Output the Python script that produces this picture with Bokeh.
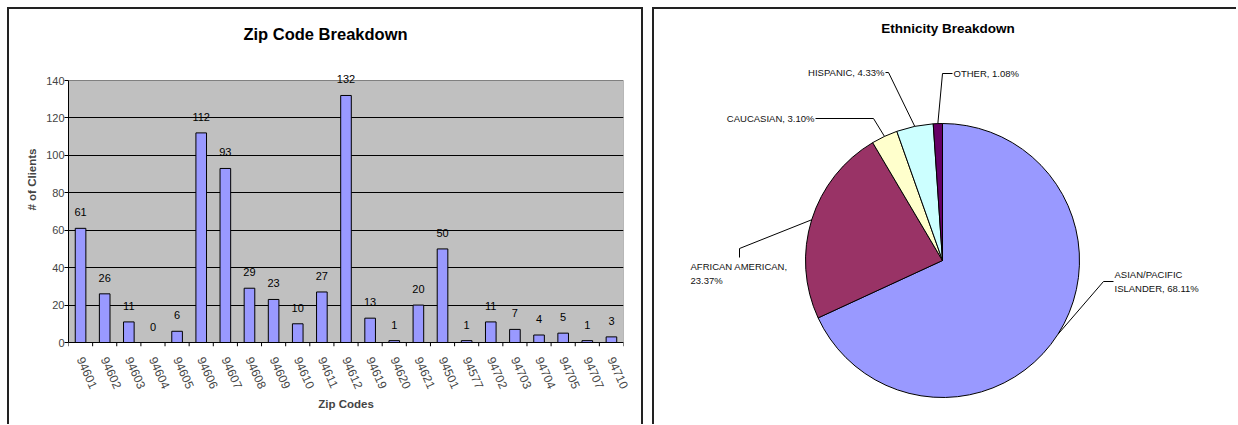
import math
from bokeh.plotting import figure
from bokeh.models import (ColumnDataSource, Range1d, LinearAxis, FixedTicker, LabelSet,
                          Label, Grid, BoxAnnotation, Span)
from bokeh.layouts import row
from bokeh.embed import file_html
from bokeh.resources import INLINE
from bokeh.core.properties import value

# ---------------- data ----------------
zip_codes = ["94601", "94602", "94603", "94604", "94605", "94606", "94607", "94608",
             "94609", "94610", "94611", "94612", "94619", "94620", "94621", "94501",
             "94577", "94702", "94703", "94704", "94705", "94707", "94710"]
clients = [61, 26, 11, 0, 6, 112, 93, 29, 23, 10, 27, 132, 13, 1, 20, 50, 1, 11, 7, 4, 5, 1, 3]
y_ticks = [0, 20, 40, 60, 80, 100, 120, 140]

eth_names = ["ASIAN/PACIFIC\nISLANDER", "AFRICAN AMERICAN,\n", "CAUCASIAN", "HISPANIC", "OTHER"]
eth_pct = [68.11, 23.37, 3.10, 4.33, 1.08]
eth_colors = ["#9999FF", "#993366", "#FFFFCC", "#CCFFFF", "#660066"]

FONT = "Liberation Sans"
EDGE = "#222222"

# ---------------- bar chart (pixel layout) ----------------
W1, H = 643, 424
F_LEFT, F_RIGHT, F_TOP140, F_ZERO = 68, 623, 80, 342   # plot area in px
FRAME_TOP, TICK = 12, 4
N = len(zip_codes)
PXY = (F_ZERO - F_TOP140) / y_ticks[-1]
PXX = (F_RIGHT - F_LEFT) / N

idx = list(range(N))
src = ColumnDataSource(dict(i=idx, n=clients, lbl=[str(v) for v in clients]))

p = figure(x_range=Range1d(-0.5, N - 0.5),
           y_range=Range1d(-TICK / PXY, y_ticks[-1] + (F_TOP140 - FRAME_TOP) / PXY),
           width=W1, height=H, output_backend="svg", toolbar_location=None, title=None,
           x_axis_location=None, y_axis_location=None,
           min_border_left=F_LEFT, min_border_right=W1 - F_RIGHT, min_border_top=FRAME_TOP,
           min_border_bottom=H - F_ZERO - TICK)
p.frame_align = False
p.grid.visible = False
p.background_fill_color = None
p.border_fill_color = None
p.outline_line_color = None
p.styles = {"box-shadow": f"inset 7px 7px 0 0 white, inset 9px 9px 0 0 {EDGE}, inset -2px 0 0 0 {EDGE}"}

p.add_layout(BoxAnnotation(bottom=0, top=y_ticks[-1], fill_color="#C0C0C0", fill_alpha=1,
                           line_color="#808080", line_alpha=1, line_width=1, level="underlay"))
p.add_layout(Grid(dimension=1, ticker=FixedTicker(ticks=y_ticks[1:-1]),
                  grid_line_color="black", grid_line_width=1))

yaxis = LinearAxis(ticker=FixedTicker(ticks=y_ticks), bounds=(0, y_ticks[-1]),
                   axis_label="# of Clients",
                   axis_label_text_font=FONT, axis_label_text_font_size="11.5px",
                   axis_label_text_font_style="bold", axis_label_standoff=5,
                   major_label_text_font=FONT, major_label_text_font_size="11px",
                   major_label_standoff=0, major_tick_in=0, major_tick_out=TICK,
                   minor_tick_out=0, minor_tick_in=0, axis_line_color="black",
                   major_tick_line_color="black")
p.add_layout(yaxis, "left")

xaxis = LinearAxis(ticker=FixedTicker(ticks=idx),
                   major_label_overrides={i: z for i, z in zip(idx, zip_codes)},
                   axis_label="Zip Codes", axis_label_text_font=FONT,
                   axis_label_text_font_size="11.5px", axis_label_text_font_style="bold",
                   axis_label_standoff=3,
                   major_label_text_font=FONT, major_label_text_font_size="12px",
                   major_label_orientation=-1.15, major_label_standoff=5,
                   axis_line_color=None, major_tick_line_color=None,
                   minor_tick_line_color=None)
p.add_layout(xaxis, "below")

# category axis line and boundary ticks
p.add_layout(Span(location=0, dimension="width", line_color="black", line_width=1))
bounds = [i - 0.5 for i in range(N + 1)]
p.segment(x0=bounds, y0=[0] * len(bounds), x1=bounds, y1=[-TICK / PXY] * len(bounds),
          line_color="black", line_width=1)

p.vbar(x="i", top="n", width=0.44, source=src, fill_color="#9999FF",
       line_color="black", line_width=1)
p.add_layout(LabelSet(x="i", y="n", text="lbl", source=src, text_align="center",
                      text_baseline="middle", y_offset=16, text_font=value(FONT),
                      text_font_size="11px", text_color="black"))

p.add_layout(Label(x=-0.5 + (325 - F_LEFT) / PXX, y=y_ticks[-1] + (F_TOP140 - 33) / PXY,
                   text="Zip Code Breakdown", text_align="center", text_baseline="middle",
                   text_font=FONT, text_font_size="16.5px", text_font_style="bold",
                   text_color="black"))

# ---------------- pie chart ----------------
# coordinates in pixels, origin at the pie centre
R = 137
W2 = 584
CX, CY = 942 - 652, 260
q = figure(x_range=Range1d(-CX, W2 - CX), y_range=Range1d(CY - H, CY),
           width=W2, height=H, output_backend="svg", toolbar_location=None, title=None,
           x_axis_location=None, y_axis_location=None, min_border=0)
q.frame_align = False
q.grid.visible = False
q.outline_line_color = None
q.background_fill_color = None
q.border_fill_color = None
q.styles = {"box-shadow": f"inset 0 7px 0 0 white, inset 2px 9px 0 0 {EDGE}"}

total = sum(eth_pct)
cum = [0.0]
for v in eth_pct:
    cum.append(cum[-1] + v / total * 360.0)
starts = [90 - c for c in cum[1:]]
ends = [90 - c for c in cum[:-1]]
mids = [math.radians(90 - (a + b) / 2) for a, b in zip(cum[:-1], cum[1:])]

q.wedge(x=0, y=0, radius=R, start_angle=starts, end_angle=ends, start_angle_units="deg",
        end_angle_units="deg", fill_color=eth_colors, line_color="black", line_width=1)

labels = []
for n, v in zip(eth_names, eth_pct):
    if n.endswith(",\n"):
        labels.append(f"{n}{v:.2f}%")
    else:
        labels.append(f"{n}, {v:.2f}%")

# leader layout: elbow point, leg end, text anchor, alignment (px from pie centre)
elbows = [(161, -21), (-203, 12), (-69, 142), (-54, 188), (0, 187)]
legs = [(171, -21), (-203, 3), (-127, 142), (-57, 188), (10, 187)]
anchors = [(172, -21), (-252, -13), (-128, 142), (-58, 188), (11, 187)]
aligns = ["left", "left", "right", "right", "left"]

xs, ys = [], []
for m, e, l in zip(mids, elbows, legs):
    xs.append([R * math.cos(m), e[0], l[0]])
    ys.append([R * math.sin(m), e[1], l[1]])
q.multi_line(xs=xs, ys=ys, line_color="black", line_width=1)

q.text(x=[a[0] for a in anchors], y=[a[1] for a in anchors], text=labels,
       text_align=aligns, text_baseline="middle", text_font=value(FONT),
       text_font_size="9.5px", text_color="#111111", text_line_height=1.3)

q.text(x=[5.5], y=[232], text=["Ethnicity Breakdown"], text_align="center",
       text_baseline="middle", text_font=value(FONT), text_font_size="13.5px",
       text_font_style="bold", text_color="black")

layout = row(p, q, spacing=9)
open("out.html", "w").write(file_html(layout, INLINE))
